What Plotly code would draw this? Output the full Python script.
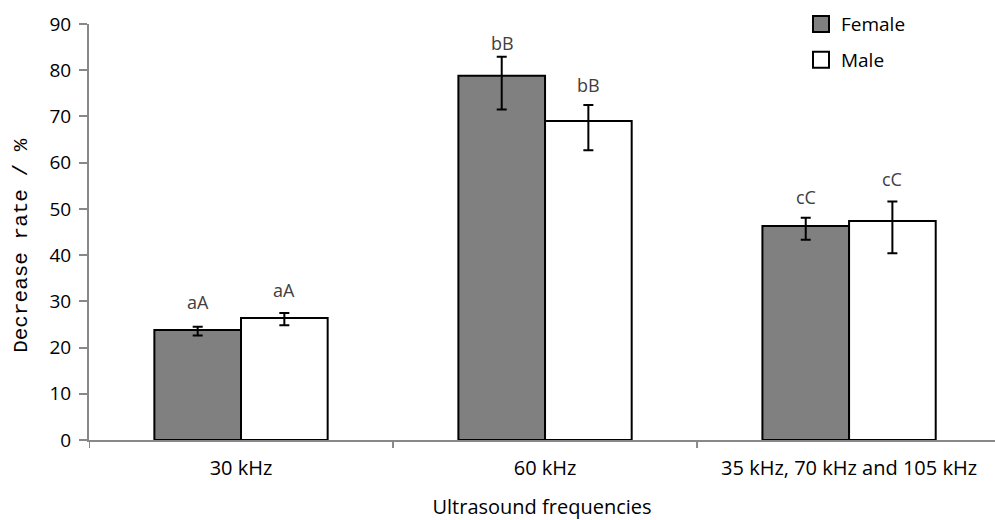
import plotly.graph_objects as go

categories = ["30 kHz", "60 kHz", "35 kHz, 70 kHz and 105 kHz"]
female = [23.8, 78.8, 46.3]
female_plus = [0.7, 4.1, 1.8]
female_minus = [1.2, 7.3, 3.0]
male = [26.4, 69.0, 47.4]
male_plus = [1.1, 3.5, 4.2]
male_minus = [1.6, 6.3, 7.0]
female_labels = ["aA", "bB", "cC"]
male_labels = ["aA", "bB", "cC"]
y_ticks = [0, 10, 20, 30, 40, 50, 60, 70, 80, 90]

# label offsets above the error bar tops (pixels)
female_label_shift = [11, 0, 7]
male_label_shift = [9, 6, 8]

x = list(range(len(categories)))
font_main = "'Open Sans', sans-serif"
axis_gray = "#888888"

fig = go.Figure()
fig.add_trace(go.Bar(
    x=x, y=female, name="Female", showlegend=False,
    marker=dict(color="#808080", line=dict(color="black", width=2)),
    error_y=dict(type="data", symmetric=False, array=female_plus, arrayminus=female_minus,
                 color="black", thickness=2, width=5),
))
fig.add_trace(go.Bar(
    x=x, y=male, name="Male", showlegend=False,
    marker=dict(color="white", line=dict(color="black", width=2)),
    error_y=dict(type="data", symmetric=False, array=male_plus, arrayminus=male_minus,
                 color="black", thickness=2, width=5),
))
# legend entries
fig.add_trace(go.Scatter(x=[None], y=[None], mode="markers", name="Female", legendgroup="f",
                         marker=dict(symbol="square", size=16, color="#808080",
                                     line=dict(color="black", width=2))))
fig.add_trace(go.Scatter(x=[None], y=[None], mode="markers", name="Male", legendgroup="m",
                         marker=dict(symbol="square", size=16, color="white",
                                     line=dict(color="black", width=2))))

annotations = []
for i in x:
    annotations.append(dict(x=i, y=female[i] + female_plus[i], xref="x", yref="y",
                            text=female_labels[i], showarrow=False, xshift=-43,
                            yanchor="bottom", yshift=female_label_shift[i],
                            font=dict(family=font_main, size=18, color="#404040")))
    annotations.append(dict(x=i, y=male[i] + male_plus[i], xref="x", yref="y",
                            text=male_labels[i], showarrow=False, xshift=43,
                            yanchor="bottom", yshift=male_label_shift[i],
                            font=dict(family=font_main, size=18, color="#404040")))
# y-axis title
annotations.append(dict(x=-0.074, y=0.469, xref="paper", yref="paper", text="Decrease rate / %",
                        textangle=-90, showarrow=False, xanchor="center", yanchor="middle",
                        font=dict(family="'Liberation Mono', monospace", size=21, color="black")))

fig.update_layout(
    width=995, height=520,
    margin=dict(l=89, r=0, t=24, b=80, autoexpand=False),
    plot_bgcolor="white", paper_bgcolor="white",
    barmode="group", bargap=0.43, bargroupgap=0,
    showlegend=True,
    legend=dict(xref="container", yref="container", x=0.805, y=0.99,
                xanchor="left", yanchor="top",
                font=dict(family=font_main, size=19, color="black"),
                bgcolor="rgba(0,0,0,0)", tracegroupgap=8, itemsizing="trace",
                traceorder="grouped"),
    annotations=annotations,
    font=dict(family=font_main, color="black"),
)
fig.update_xaxes(
    range=[-0.5, 2.48], automargin=False,
    tickmode="array", tickvals=x, ticktext=categories,
    showgrid=False, showline=True, linecolor=axis_gray, linewidth=2,
    ticks="outside", ticklen=9, tickcolor="rgba(0,0,0,0)",
    tickfont=dict(family=font_main, size=20, color="black"),
    title=dict(text="Ultrasound frequencies", font=dict(family=font_main, size=20, color="black"), standoff=20),
)
fig.update_yaxes(
    range=[0, 90], tickmode="array", tickvals=y_ticks, automargin=False,
    showgrid=False, showline=True, linecolor=axis_gray, linewidth=2,
    ticks="outside", ticklen=8, tickcolor=axis_gray, tickwidth=2,
    ticklabelstandoff=4,
    tickfont=dict(family=font_main, size=19, color="black"),
    zeroline=False,
)
# boundary ticks on x axis
for b in [-0.5, 0.5, 1.5]:
    fig.add_shape(type="line", xref="x", yref="paper", x0=b, x1=b, y0=0, y1=-8 / 416,
                  line=dict(color=axis_gray, width=2))

fig.write_html("out.html", config={"displayModeBar": False},
               post_script="document.body.style.margin='0';document.body.style.overflow='hidden';")
